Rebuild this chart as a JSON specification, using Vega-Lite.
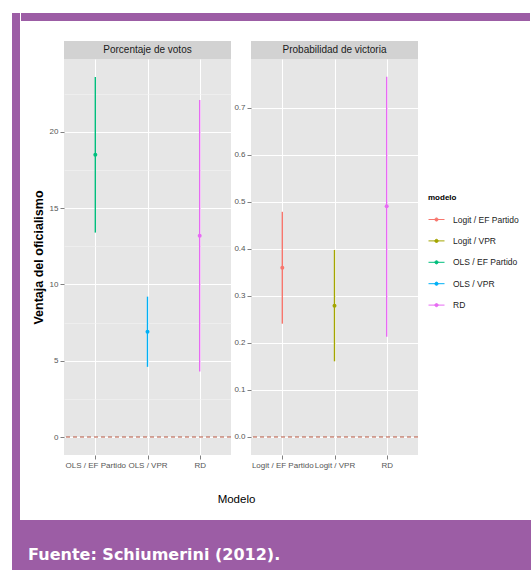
{
  "$schema": "https://vega.github.io/schema/vega-lite/v6.json",
  "background": "#FFFFFF",
  "padding": {"left": 11, "top": 12, "right": 0, "bottom": 0},
  "spacing": 0,
  "config": {
    "view": {"stroke": null},
    "font": "Liberation Sans",
    "concat": {"spacing": 0},
    "legend": {
      "orient": "none",
      "legendX": 416,
      "legendY": 181,
      "padding": 0,
      "titleFont": "Liberation Sans",
      "titleFontSize": 8,
      "titleFontWeight": "bold",
      "titleColor": "#000000",
      "titlePadding": 9,
      "labelFont": "Liberation Sans",
      "labelFontSize": 8.5,
      "labelColor": "#1A1A1A",
      "labelOffset": 8,
      "rowPadding": 8.4,
      "symbolType": "M-1,0L1,0M-0.2,0A0.2,0.2,0,1,1,0.2,0A0.2,0.2,0,1,1,-0.2,0Z",
      "symbolSize": 256,
      "symbolStrokeWidth": 1
    },
    "title": {"font": "Liberation Sans"}
  },
  "vconcat": [
    {
      "spacing": 0,
      "hconcat": [
        {
          "width": 8, "height": 507,
          "view": {"fill": "#9C5DA5", "stroke": null},
          "data": {"values": [{}]},
          "mark": {"type": "rule", "opacity": 0},
          "encoding": {}
        },
        {
          "spacing": 19,
          "vconcat": [
            {
              "width": 509, "height": 8,
              "view": {"fill": "#9C5DA5", "stroke": null},
              "data": {"values": [{}]},
              "mark": {"type": "rule", "opacity": 0},
              "encoding": {}
            },
            {
              "spacing": 1,
              "title": {"text": "Modelo", "orient": "bottom", "anchor": "middle", "fontSize": 11.5, "fontWeight": "normal", "color": "#000000", "offset": 25, "dx": 17},
              "hconcat": [
                {
                  "width": 10, "height": 1,
                  "data": {"values": [{}]},
                  "mark": {"type": "rule", "opacity": 0},
                  "encoding": {}
                },
                {
                  "spacing": 0,
                  "vconcat": [
                    {
                      "width": 167, "height": 18,
                      "view": {"fill": "#D2D2D2", "stroke": null},
                      "data": {"values": [{"panel": "Porcentaje de votos"}]},
                      "mark": {"type": "text", "fontSize": 10, "color": "#1A1A1A", "baseline": "middle", "align": "center"},
                      "encoding": {"text": {"field": "panel", "type": "nominal"}}
                    },
                    {
                      "width": 167, "height": 396,
                      "view": {"fill": "#E6E6E6", "stroke": null},
                      "data": {"values": [
                        {"modelo": "OLS / EF Partido", "est": 18.5, "lo": 13.4, "hi": 23.6},
                        {"modelo": "OLS / VPR", "est": 6.9, "lo": 4.6, "hi": 9.2},
                        {"modelo": "RD", "est": 13.2, "lo": 4.3, "hi": 22.1}
                      ]},
                      "layer": [
                        {
                          "mark": {"type": "rule", "strokeWidth": 1.4},
                          "encoding": {
                            "x": {"field": "modelo", "type": "nominal", "sort": null, "scale": {"type": "point", "padding": 0.6},
                              "axis": {"title": null, "labelAngle": 0, "grid": true, "gridColor": "#FFFFFF", "gridWidth": 1, "tickSize": 4, "tickColor": "#808080", "labelFontSize": 8, "labelColor": "#555555", "domain": false, "labelOverlap": false, "labelPadding": 2, "labelFlush": false, "labelBound": false}},
                            "y": {"field": "lo", "type": "quantitative", "scale": {"domain": [-1.18, 24.78], "nice": false, "zero": false},
                              "axis": {"title": "Ventaja del oficialismo", "values": [0, 2.5, 5, 7.5, 10, 12.5, 15, 17.5, 20, 22.5],
                                "labelExpr": "datum.value % 5 !== 0 ? '' : datum.label",
                                "grid": true,
                                "gridColor": {"condition": {"test": "datum.value % 5 !== 0", "value": "#F3F3F3"}, "value": "#FFFFFF"},
                                "gridWidth": {"condition": {"test": "datum.value % 5 !== 0", "value": 0.6}, "value": 1},
                                "tickOpacity": {"condition": {"test": "datum.value % 5 !== 0", "value": 0}, "value": 1},
                                "tickColor": "#808080", "tickSize": 4, "labelPadding": 2, "labelFontSize": 8, "labelColor": "#555555", "domain": false,
                                "titleFontSize": 12.5, "titleFontWeight": "bold", "titleColor": "#000000", "titlePadding": 4}},
                            "y2": {"field": "hi"},
                            "color": {"field": "modelo", "type": "nominal",
                              "scale": {"domain": ["Logit / EF Partido", "Logit / VPR", "OLS / EF Partido", "OLS / VPR", "RD"], "range": ["#F8766D", "#A3A500", "#00BF7D", "#00B0F6", "#E76BF3"]},
                              "legend": {"title": "modelo", "encode": {"symbols": {"update": {"fill": {"scale": "color", "field": "value"}, "stroke": {"scale": "color", "field": "value"}}}}}}
                          }
                        },
                        {
                          "mark": {"type": "point", "filled": true, "size": 16, "opacity": 1},
                          "encoding": {
                            "x": {"field": "modelo", "type": "nominal", "sort": null},
                            "y": {"field": "est", "type": "quantitative"},
                            "color": {"field": "modelo", "type": "nominal",
                              "legend": {"title": "modelo", "encode": {"symbols": {"update": {"fill": {"scale": "color", "field": "value"}, "stroke": {"scale": "color", "field": "value"}}}}}}
                          }
                        },
                        {
                          "data": {"values": [{"ref": 0}]},
                          "mark": {"type": "rule", "color": "#B5533C", "strokeDash": [4, 3], "strokeWidth": 1},
                          "encoding": {"y": {"field": "ref", "type": "quantitative"}}
                        }
                      ]
                    }
                  ]
                },
                {
                  "spacing": 0,
                  "vconcat": [
                    {
                      "width": 167, "height": 18,
                      "view": {"fill": "#D2D2D2", "stroke": null},
                      "data": {"values": [{"panel": "Probabilidad de victoria"}]},
                      "mark": {"type": "text", "fontSize": 10, "color": "#1A1A1A", "baseline": "middle", "align": "center"},
                      "encoding": {"text": {"field": "panel", "type": "nominal"}}
                    },
                    {
                      "width": 167, "height": 396,
                      "view": {"fill": "#E6E6E6", "stroke": null},
                      "data": {"values": [
                        {"modelo": "Logit / EF Partido", "est": 0.36, "lo": 0.241, "hi": 0.479},
                        {"modelo": "Logit / VPR", "est": 0.279, "lo": 0.161, "hi": 0.398},
                        {"modelo": "RD", "est": 0.491, "lo": 0.213, "hi": 0.766}
                      ]},
                      "layer": [
                        {
                          "mark": {"type": "rule", "strokeWidth": 1.4},
                          "encoding": {
                            "x": {"field": "modelo", "type": "nominal", "sort": null, "scale": {"type": "point", "padding": 0.6},
                              "axis": {"title": null, "labelAngle": 0, "grid": true, "gridColor": "#FFFFFF", "gridWidth": 1, "tickSize": 4, "tickColor": "#808080", "labelFontSize": 8, "labelColor": "#555555", "domain": false, "labelOverlap": false, "labelPadding": 2, "labelFlush": false, "labelBound": false}},
                            "y": {"field": "lo", "type": "quantitative", "scale": {"domain": [-0.0383, 0.804], "nice": false, "zero": false},
                              "axis": {"title": null, "values": [0, 0.05, 0.1, 0.15, 0.2, 0.25, 0.3, 0.35, 0.4, 0.45, 0.5, 0.55, 0.6, 0.65, 0.7, 0.75],
                                "labelExpr": "round(datum.value * 20) % 2 !== 0 ? '' : format(datum.value, '.1f')",
                                "grid": true,
                                "gridColor": {"condition": {"test": "round(datum.value * 20) % 2 !== 0", "value": "#F3F3F3"}, "value": "#FFFFFF"},
                                "gridWidth": {"condition": {"test": "round(datum.value * 20) % 2 !== 0", "value": 0.6}, "value": 1},
                                "tickOpacity": {"condition": {"test": "round(datum.value * 20) % 2 !== 0", "value": 0}, "value": 1},
                                "tickColor": "#808080", "tickSize": 4, "labelPadding": 2, "labelFontSize": 8, "labelColor": "#555555", "domain": false}},
                            "y2": {"field": "hi"},
                            "color": {"field": "modelo", "type": "nominal",
                              "legend": {"title": "modelo", "encode": {"symbols": {"update": {"fill": {"scale": "color", "field": "value"}, "stroke": {"scale": "color", "field": "value"}}}}}}
                          }
                        },
                        {
                          "mark": {"type": "point", "filled": true, "size": 16, "opacity": 1},
                          "encoding": {
                            "x": {"field": "modelo", "type": "nominal", "sort": null},
                            "y": {"field": "est", "type": "quantitative"},
                            "color": {"field": "modelo", "type": "nominal",
                              "legend": {"title": "modelo", "encode": {"symbols": {"update": {"fill": {"scale": "color", "field": "value"}, "stroke": {"scale": "color", "field": "value"}}}}}}
                          }
                        },
                        {
                          "data": {"values": [{"ref": 0}]},
                          "mark": {"type": "rule", "color": "#B5533C", "strokeDash": [4, 3], "strokeWidth": 1},
                          "encoding": {"y": {"field": "ref", "type": "quantitative"}}
                        }
                      ]
                    }
                  ]
                }
              ]
            }
          ]
        },
        {
          "width": 3, "height": 507,
          "view": {"fill": "#9C5DA5", "stroke": null},
          "data": {"values": [{}]},
          "mark": {"type": "rule", "opacity": 0},
          "encoding": {}
        }
      ]
    },
    {
      "width": 520, "height": 51,
      "view": {"fill": "#9C5DA5", "stroke": null},
      "data": {"values": [{"fuente": "Fuente: Schiumerini (2012)."}]},
      "mark": {"type": "text", "align": "left", "baseline": "middle", "font": "DejaVu Sans", "fontSize": 16, "fontWeight": "bold", "color": "#FFFFFF", "dy": 9},
      "encoding": {
        "text": {"field": "fuente", "type": "nominal"},
        "x": {"datum": 0.031, "type": "quantitative", "scale": {"domain": [0, 1]}, "axis": null}
      }
    }
  ]
}
